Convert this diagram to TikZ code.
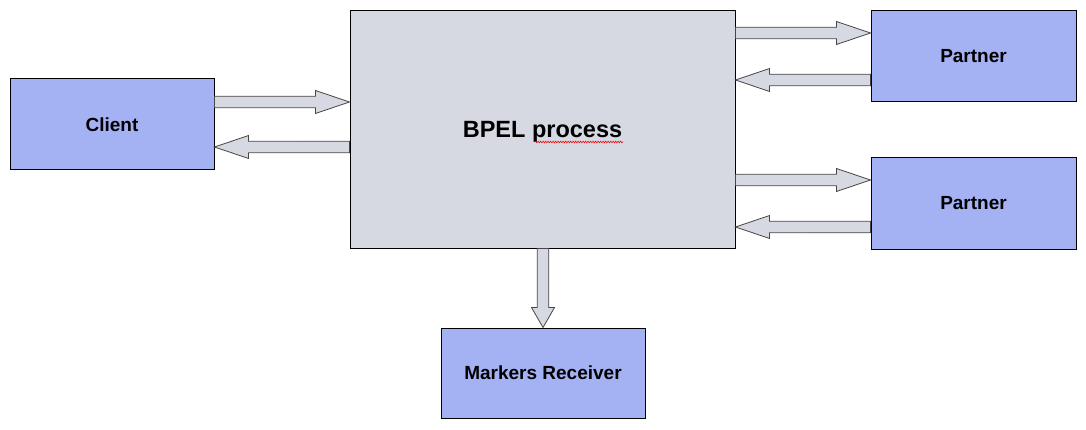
\documentclass[tikz,border=0pt]{standalone}
\usepackage{fontspec}
\setmainfont{Liberation Sans}
\usetikzlibrary{calc,decorations.pathmorphing}
\definecolor{boxblue}{RGB}{164,178,244}
\definecolor{procgray}{RGB}{214,216,226}
\definecolor{arrline}{RGB}{70,70,70}
\newcommand\blockarrow[3][34]{%
	\pgfmathsetmacro\hdA{veclen(#1,5.75)}
	\pgfmathsetmacro\agA{atan(5.75/#1)}
	\pgfmathsetmacro\hdB{veclen(#1,11.5)}
	\pgfmathsetmacro\agB{atan(11.5/#1)}
	\draw[blockarr] ($(#2)!5.75pt!90:(#3)$) -- ($(#3)!\hdA pt!-\agA:(#2)$) -- ($(#3)!\hdB pt!-\agB:(#2)$) -- (#3) -- ($(#3)!\hdB pt!\agB:(#2)$) -- ($(#3)!\hdA pt!\agA:(#2)$) -- ($(#2)!5.75pt!-90:(#3)$) -- cycle;}
\begin{document}
\begin{tikzpicture}[x=1pt,y=1pt,
	actor/.style={draw=black, line width=1pt, fill=boxblue, inner sep=0pt, minimum width=204pt, minimum height=91pt, font=\fontsize{19}{23}\selectfont\bfseries},
	proc/.style={draw=black, line width=1pt, fill=procgray, inner sep=0pt, text depth=0pt, minimum width=385pt, minimum height=237pt, font=\fontsize{23.5}{28}\selectfont\bfseries},
	blockarr/.style={draw=arrline, line width=0.8pt, fill=procgray, line join=miter}]
		\useasboundingbox (0,0) rectangle (1086,429);
		\node[actor] (client) at (112,304.5) {Client};
		\node[proc] (bpel) at (542.5,299.5) {BPEL process};
		\node[actor, minimum width=205pt] (partnerA) at (973.5,372.5) {Partner};
		\node[actor, minimum width=205pt] (partnerB) at (973.5,225.5) {Partner};
		\node[actor, minimum height=90pt] (markers) at (543,56) {Markers Receiver};
		\draw[red, line width=0.6pt, decorate, decoration={zigzag, segment length=2.5pt, amplitude=0.8pt}] (535,287) -- (623,287);
		\coordinate (cl1) at ([yshift=22.5pt]client.east);
		\coordinate (bp1) at (bpel.west |- cl1);
		\coordinate (cl2) at ([yshift=-22.5pt]client.east);
		\coordinate (bp2) at (bpel.west |- cl2);
		\coordinate (pa1) at ([yshift=23.5pt]partnerA.west);
		\coordinate (bp3) at (bpel.east |- pa1);
		\coordinate (pa2) at ([yshift=-23.5pt]partnerA.west);
		\coordinate (bp4) at (bpel.east |- pa2);
		\coordinate (pb1) at ([yshift=23.5pt]partnerB.west);
		\coordinate (bp5) at (bpel.east |- pb1);
		\coordinate (pb2) at ([yshift=-23.5pt]partnerB.west);
		\coordinate (bp6) at (bpel.east |- pb2);
		\coordinate (bp7) at (bpel.south -| markers.north);
		\blockarrow{cl1}{bp1}
		\blockarrow{bp2}{cl2}
		\blockarrow{bp3}{pa1}
		\blockarrow{pa2}{bp4}
		\blockarrow{bp5}{pb1}
		\blockarrow{pb2}{bp6}
		\blockarrow[20]{bp7}{markers.north}
	\end{tikzpicture}
\end{document}
